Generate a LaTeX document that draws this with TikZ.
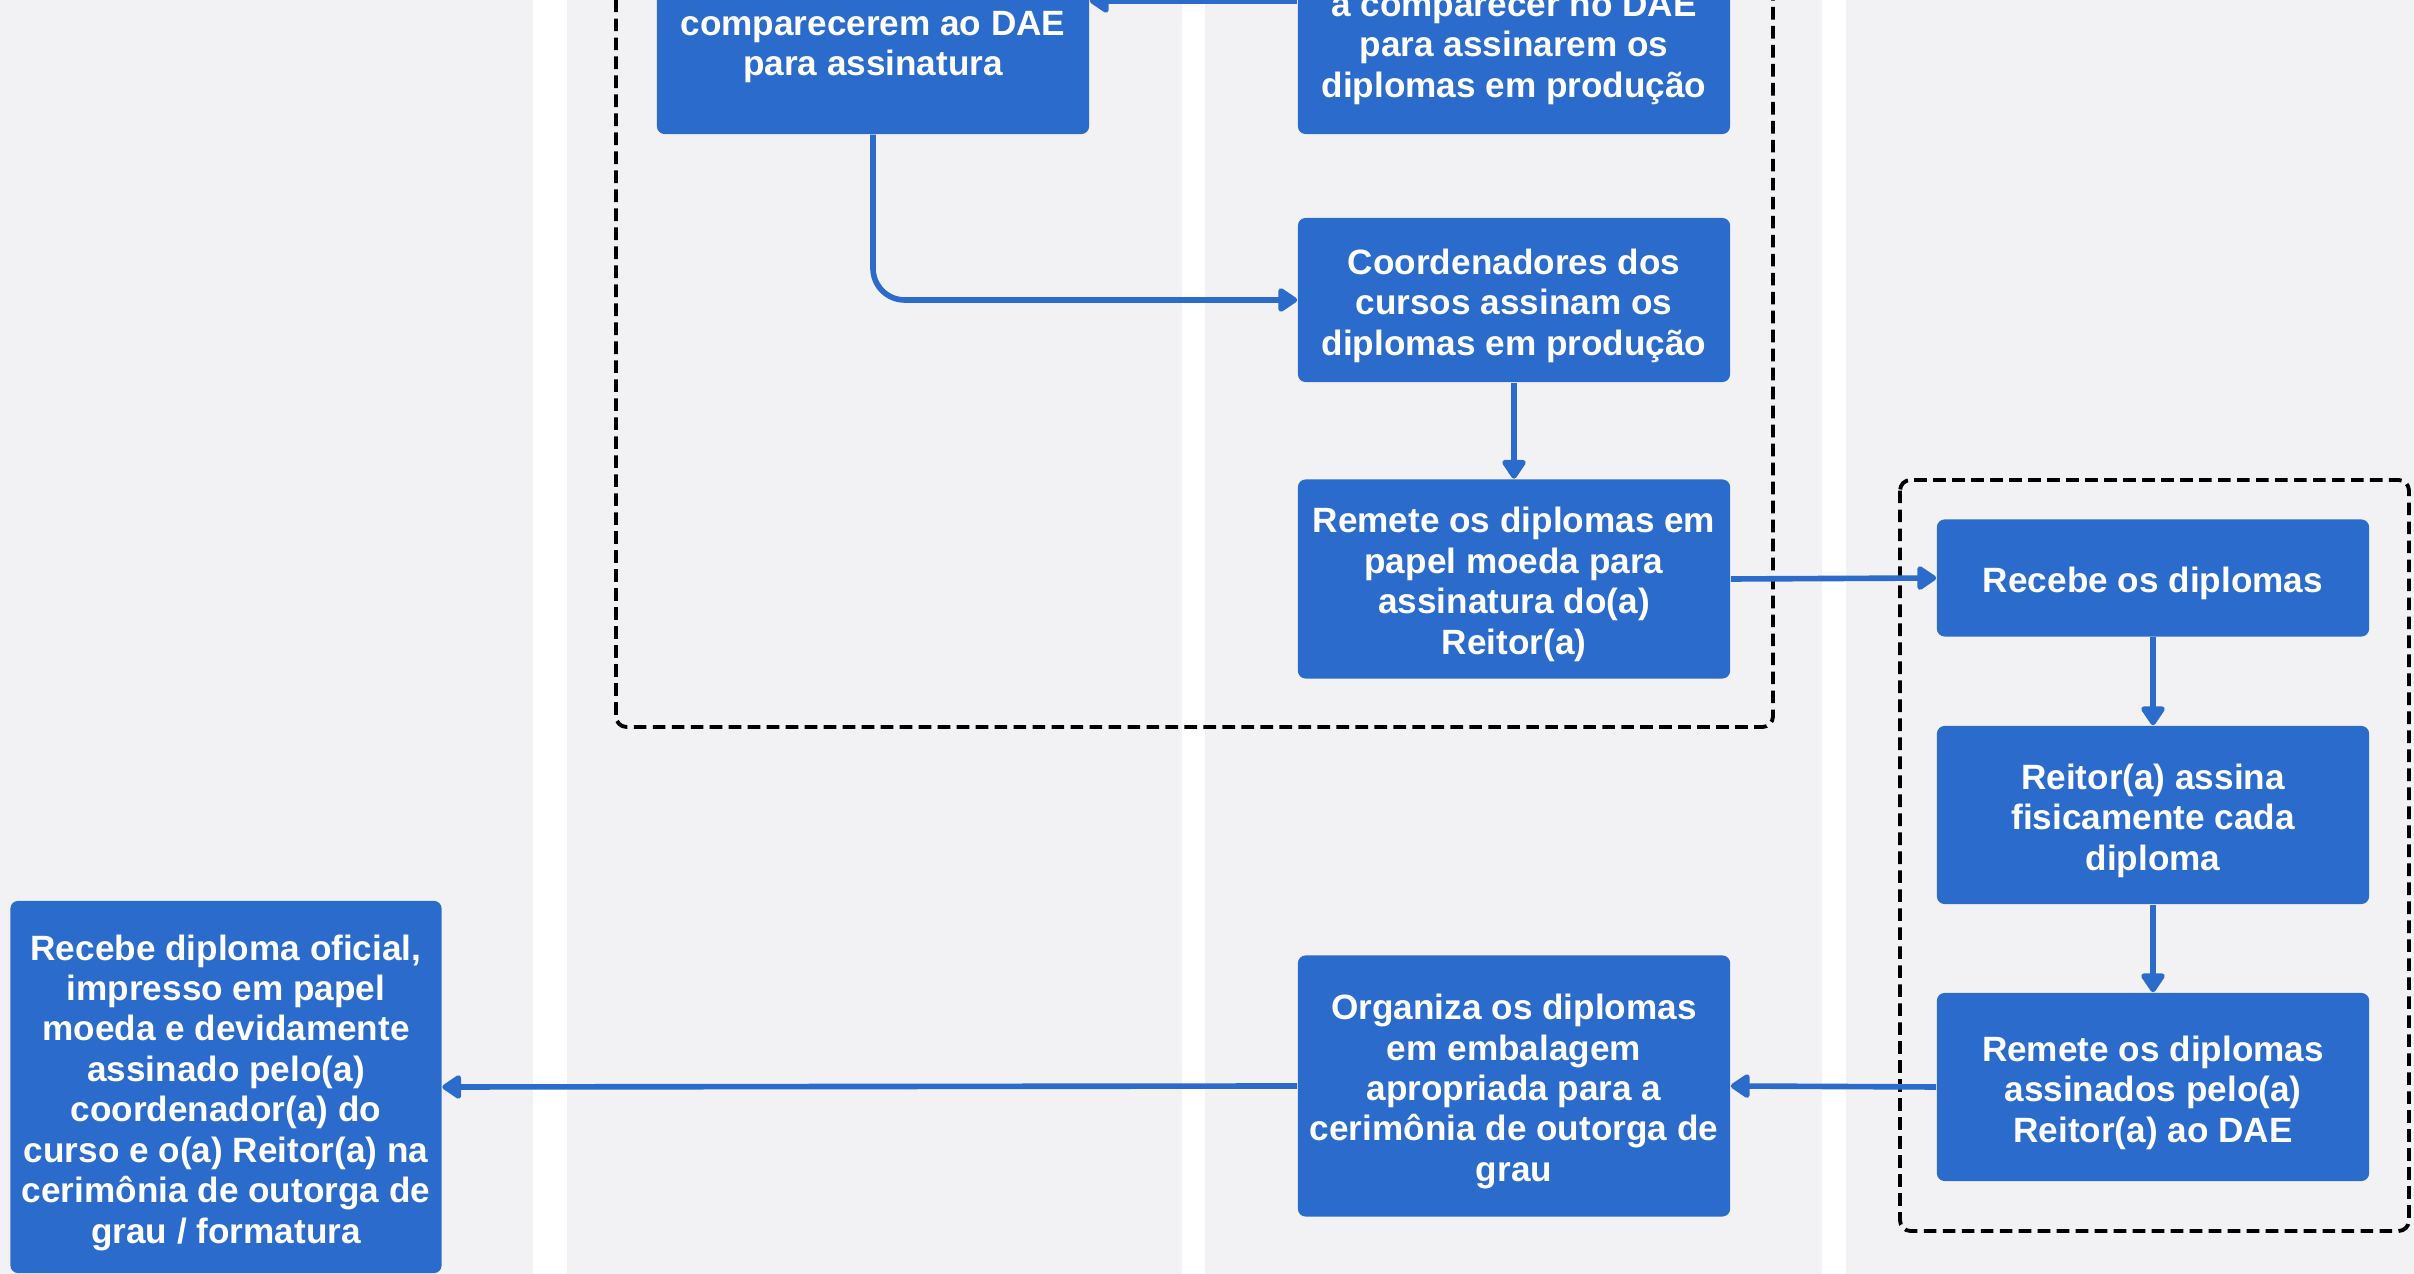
\documentclass[tikz,border=0pt]{standalone}
\usepackage{fontspec}
\setmainfont{Liberation Sans}
\usepackage{xcolor}
\usepackage{tikz}
\usetikzlibrary{arrows.meta}
\definecolor{laneGray}{RGB}{242,242,244}
\definecolor{boxBlue}{RGB}{43,107,204}
\newcommand{\ajuste}{\rule{0pt}{10.4pt}}

\begin{document}
\begin{tikzpicture}[x=0.01cm, y=-0.01cm,
    stepbox/.style={fill=boxBlue, text=white, rounded corners=2.2pt,
      align=center, font=\fontsize{10}{11.5}\selectfont\bfseries,
      minimum width=4.32cm, inner xsep=1pt, inner ysep=0pt},
    flow/.style={draw=boxBlue, line width=1.6pt,
      -{Triangle[round, length=6pt, width=7.6pt]}},
    group/.style={draw=black, line width=1.1pt,
      dash pattern=on 3.6pt off 1.8pt, rounded corners=3pt}]

    \useasboundingbox (0, 0) rectangle (2414, 1274);
    \clip (0, 0) rectangle (2414, 1274);
    \fill [white] (0, 0) rectangle (2414, 1274);

    \fill [laneGray] (0, -10) rectangle (533, 1284);
    \fill [laneGray] (567, -10) rectangle (1182, 1284);
    \fill [laneGray] (1205, -10) rectangle (1822, 1284);
    \fill [laneGray] (1846, -10) rectangle (2424, 1284);

    \draw [group] (616, -30) rectangle (1773, 727);
    \draw [group] (1900, 480) rectangle (2409, 1231);

    \node [stepbox, minimum height=1.86cm] (avisa) at (873, 41)
    {\ajuste comparecerem ao DAE\\para assinatura};
    \node [stepbox, minimum height=1.84cm] (solicita) at (1514, 42)
    {\ajuste a comparecer no DAE\\para assinarem os\\diplomas em produção};
    \node [stepbox, minimum height=1.64cm] (assinam) at (1514, 300)
    {\ajuste Coordenadores dos\\cursos assinam os\\diplomas em produção};
    \node [stepbox, minimum height=1.99cm] (remete) at (1514, 579)
    {\ajuste Remete os diplomas em\\papel moeda para\\assinatura do(a)\\Reitor(a)};
    \node [stepbox, minimum height=1.17cm] (recebe) at (2153, 578)
    {\ajuste Recebe os diplomas};
    \node [stepbox, minimum height=1.78cm] (reitor) at (2153, 815)
    {\ajuste Reitor(a) assina\\fisicamente cada\\diploma};
    \node [stepbox, minimum height=1.88cm] (devolve) at (2153, 1087)
    {\ajuste Remete os diplomas\\assinados pelo(a)\\Reitor(a) ao DAE};
    \node [stepbox, minimum height=2.61cm] (organiza) at (1514, 1086)
    {\ajuste Organiza os diplomas\\em embalagem\\apropriada para a\\cerimônia de outorga de\\grau};
    \node [stepbox, minimum width=4.31cm, minimum height=3.72cm] (formatura) at (226, 1087)
    {\ajuste Recebe diploma oficial,\\impresso em papel\\moeda e devidamente\\assinado pelo(a)\\coordenador(a) do\\curso e o(a) Reitor(a) na\\cerimônia de outorga de\\grau / formatura};

    \coordinate (topo) at (0, 1);
    \draw [flow] (solicita.west |- topo) -- (avisa.east |- topo);
    \draw [flow, rounded corners=9pt] (avisa.south) |- (assinam.west);
    \draw [flow] (assinam.south) -- (remete.north);
    \draw [flow] (remete.east) -- (recebe.west);
    \draw [flow] (recebe.south) -- (reitor.north);
    \draw [flow] (reitor.south) -- (devolve.north);
    \draw [flow] (devolve.west) -- (organiza.east);
    \draw [flow] (organiza.west) -- (formatura.east);

\end{tikzpicture}
\end{document}
